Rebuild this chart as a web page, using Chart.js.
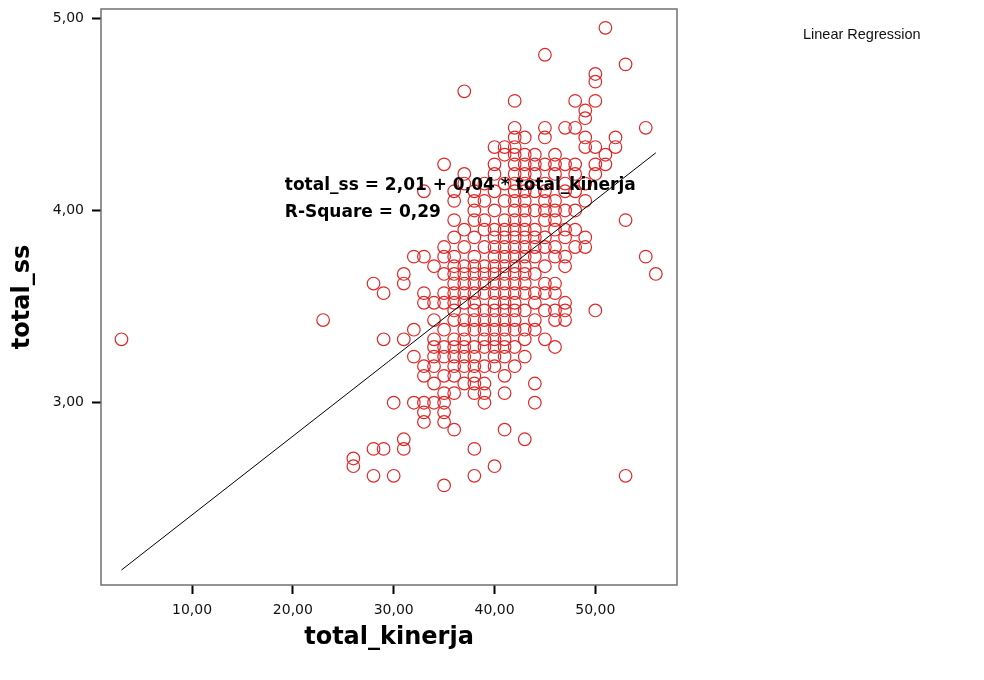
<!DOCTYPE html>
<html lang="en">
<head>
    <meta charset="UTF-8">
    <title>total_ss vs total_kinerja</title>
    <style>
        body { margin: 0; background: #fff; }
        #wrap { width: 984px; height: 680px; }
    </style>
</head>
<body>
<div id="wrap"><canvas id="scatter_canvas"></canvas></div>
<!--suppress JSUnresolvedLibraryURL -->
<script src="https://cdn.jsdelivr.net/npm/chart.js@4.4.0/dist/chart.umd.min.js"></script>
<script>
    // total_ss levels (y) and the total_kinerja scores (x) plotted at each level
    const ssLevels = [
        4.95, 4.81, 4.76, 4.71, 4.67, 4.62, 4.57, 4.52, 4.48, 4.43,
        4.38, 4.33, 4.29, 4.24, 4.19, 4.14, 4.10, 4.05, 4.00, 3.95,
        3.90, 3.86, 3.81, 3.76, 3.71, 3.67, 3.62, 3.57, 3.52, 3.48,
        3.43, 3.38, 3.33, 3.29, 3.24, 3.19, 3.14, 3.10, 3.05, 3.00,
        2.95, 2.90, 2.86, 2.81, 2.76, 2.71, 2.67, 2.62, 2.57
    ];
    const kinerjaAtLevel = [
        [51], [45], [53], [50], [50], [37], [42, 48, 50], [49], [49], [42, 45, 47, 48, 55],
        [42, 43, 45, 49, 52],
        [40, 41, 42, 49, 50, 52],
        [41, 42, 43, 44, 46, 51],
        [35, 40, 42, 43, 44, 45, 46, 47, 48, 50, 51],
        [37, 40, 42, 43, 44, 46, 48, 50],
        [37, 39, 41, 42, 43, 45, 47, 49],
        [33, 36, 38, 40, 42, 43, 44, 45, 47, 48],
        [36, 38, 39, 41, 42, 43, 45, 46, 49],
        [38, 40, 42, 43, 44, 45, 46, 47, 48],
        [36, 38, 39, 41, 42, 43, 45, 46, 53],
        [37, 39, 40, 41, 42, 43, 44, 46, 47, 48],
        [36, 38, 40, 41, 42, 43, 44, 45, 47, 49],
        [35, 37, 39, 40, 41, 42, 43, 44, 45, 46, 48, 49],
        [32, 33, 35, 36, 38, 40, 41, 42, 43, 44, 46, 47, 55],
        [34, 36, 37, 38, 39, 40, 41, 42, 43, 45, 47],
        [31, 35, 36, 37, 38, 39, 40, 41, 42, 43, 44, 56],
        [28, 31, 36, 37, 38, 39, 40, 41, 42, 43, 45, 46],
        [29, 33, 35, 36, 37, 38, 39, 40, 41, 42, 43, 44, 45, 46],
        [33, 34, 35, 36, 37, 38, 40, 41, 42, 44, 47],
        [36, 38, 39, 40, 41, 42, 43, 45, 46, 47, 50],
        [23, 34, 36, 37, 38, 39, 40, 41, 42, 44, 46, 47],
        [32, 35, 37, 38, 39, 40, 41, 42, 43, 44],
        [3, 29, 31, 34, 36, 37, 39, 40, 41, 43, 45],
        [34, 35, 36, 37, 38, 39, 40, 41, 42, 46],
        [32, 34, 35, 36, 37, 38, 40, 41, 43],
        [33, 34, 36, 37, 38, 39, 40, 42],
        [33, 35, 36, 38, 41],
        [34, 37, 38, 39, 44],
        [35, 36, 38, 39, 41],
        [30, 32, 33, 34, 35, 39, 44],
        [33, 35],
        [33, 35],
        [36, 41],
        [31, 43],
        [28, 29, 31, 38],
        [26],
        [26, 40],
        [28, 30, 38, 53],
        [35]
    ];

    // fitted line, end points
    const fitKinerja = [3, 56];
    const fitSs = [2.13, 4.30];

    const xTicks = [10, 20, 30, 40, 50];
    const yTicks = [3, 4, 5];
    const equationLines = ['total_ss = 2,01 + 0,04 * total_kinerja', 'R-Square = 0,29'];
    const legendText = 'Linear Regression';

    const points = [];
    ssLevels.forEach(function (ss, i) {
        kinerjaAtLevel[i].forEach(function (k) {
            points.push({x: k, y: ss});
        });
    });
    const fitPoints = fitKinerja.map(function (k, i) {
        return {x: k, y: fitSs[i]};
    });

    function commaFormat(value) {
        return Number(value).toFixed(2).replace('.', ',');
    }

    const frameAndText = {
        id: 'frameAndText',
        afterDatasetsDraw(chart) {
            const ctx = chart.ctx;
            const area = chart.chartArea;
            const xs = chart.scales.x;
            const ys = chart.scales.y;
            ctx.save();
            ctx.strokeStyle = '#707070';
            ctx.lineWidth = 1.5;
            ctx.strokeRect(area.left, area.top, area.right - area.left, area.bottom - area.top);

            ctx.fillStyle = '#000';
            ctx.textBaseline = 'middle';
            ctx.textAlign = 'left';
            ctx.font = 'bold 17px "DejaVu Sans"';
            ctx.fillText(equationLines[0], xs.getPixelForValue(19.2), ys.getPixelForValue(4.132));
            ctx.fillText(equationLines[1], xs.getPixelForValue(19.2), ys.getPixelForValue(3.99));

            ctx.fillStyle = '#111';
            ctx.font = '14.5px "Liberation Sans"';
            ctx.fillText(legendText, area.right + 126, 35);
            ctx.restore();
        }
    };

    const ctx = document.getElementById('scatter_canvas').getContext('2d');
    const chart = new Chart(ctx, {
        type: 'scatter',
        data: {
            datasets: [
                {
                    label: 'total_ss',
                    data: points,
                    pointStyle: 'circle',
                    pointRadius: 6.3,
                    pointBorderWidth: 1.2,
                    pointBorderColor: 'rgb(222,40,40)',
                    pointBackgroundColor: 'rgba(0,0,0,0)',
                    order: 1
                },
                {
                    label: legendText,
                    data: fitPoints,
                    showLine: true,
                    borderColor: '#000',
                    borderWidth: 1,
                    pointRadius: 0,
                    fill: false,
                    order: 0
                }
            ]
        },
        options: {
            responsive: true,
            maintainAspectRatio: false,
            animation: false,
            layout: {
                padding: {top: 9, right: 307, bottom: 0, left: 0}
            },
            plugins: {
                legend: {display: false},
                tooltip: {enabled: false}
            },
            scales: {
                x: {
                    type: 'linear',
                    min: 0.97,
                    max: 58.1,
                    afterFit: function (scale) {
                        scale.height = 95;
                        scale.paddingLeft = 0;
                        scale.paddingRight = 0;
                    },
                    afterBuildTicks: function (scale) {
                        scale.ticks = xTicks.map(function (v) { return {value: v}; });
                    },
                    border: {display: false},
                    grid: {
                        drawOnChartArea: false,
                        drawTicks: true,
                        tickLength: 9,
                        tickWidth: 2,
                        tickColor: '#000'
                    },
                    ticks: {
                        autoSkip: false,
                        maxRotation: 0,
                        padding: 8,
                        color: '#111',
                        font: {family: 'DejaVu Sans', size: 14},
                        callback: commaFormat
                    },
                    title: {
                        display: true,
                        text: 'total_kinerja',
                        color: '#000',
                        font: {family: 'DejaVu Sans', size: 24, weight: 'bold'},
                        padding: {top: 0, bottom: 28}
                    }
                },
                y: {
                    type: 'linear',
                    min: 2.052,
                    max: 5.048,
                    afterFit: function (scale) {
                        scale.width = 101;
                        scale.paddingTop = 0;
                        scale.paddingBottom = 0;
                    },
                    afterBuildTicks: function (scale) {
                        scale.ticks = yTicks.map(function (v) { return {value: v}; });
                    },
                    border: {display: false},
                    grid: {
                        drawOnChartArea: false,
                        drawTicks: true,
                        tickLength: 9,
                        tickWidth: 2,
                        tickColor: '#000'
                    },
                    ticks: {
                        autoSkip: false,
                        padding: 8,
                        color: '#111',
                        font: {family: 'DejaVu Sans', size: 14},
                        callback: commaFormat
                    },
                    title: {
                        display: true,
                        text: 'total_ss',
                        color: '#000',
                        font: {family: 'DejaVu Sans', size: 24, weight: 'bold'},
                        padding: {top: 8, bottom: 0}
                    }
                }
            }
        },
        plugins: [frameAndText]
    });
</script>
</body>
</html>
